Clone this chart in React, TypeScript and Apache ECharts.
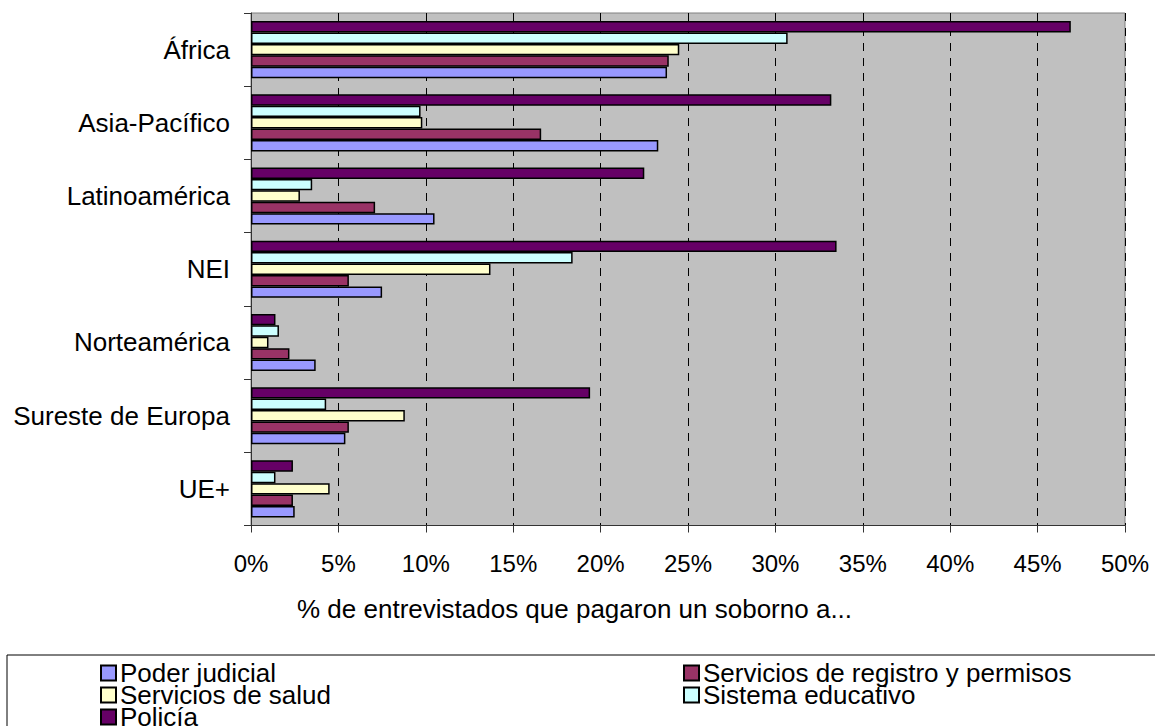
import React, { useEffect, useRef } from "react";
import * as echarts from "echarts";

const categories = ["África", "Asia-Pacífico", "Latinoamérica", "NEI", "Norteamérica", "Sureste de Europa", "UE+"];
const seriesNames = ["Poder judicial", "Servicios de registro y permisos", "Servicios de salud", "Sistema educativo", "Policía"];
const poderJudicial = [23.8, 23.3, 10.5, 7.5, 3.7, 5.4, 2.5];
const registroPermisos = [23.9, 16.6, 7.1, 5.6, 2.2, 5.6, 2.4];
const salud = [24.5, 9.8, 2.8, 13.7, 1.0, 8.8, 4.5];
const educativo = [30.7, 9.7, 3.5, 18.4, 1.6, 4.3, 1.4];
const policia = [46.9, 33.2, 22.5, 33.5, 1.4, 19.4, 2.4];
const seriesValues = [poderJudicial, registroPermisos, salud, educativo, policia];
const seriesColors = ["#9999FF", "#993366", "#FFFFCC", "#CCFFFF", "#660066"];
const axisTitle = "% de entrevistados que pagaron un soborno a...";

const FONT = "'Liberation Sans', Arial, sans-serif";

export default function App() {
  const ref = useRef<HTMLDivElement>(null);
  useEffect(() => {
    if (!ref.current) return;
    const chart = echarts.init(ref.current, undefined, { renderer: "svg" });
    const legendPos = [
      { left: 100, top: 660 },
      { left: 683, top: 660 },
      { left: 100, top: 682 },
      { left: 683, top: 682 },
      { left: 100, top: 704 },
    ];
    // Series drawn top-to-bottom within each band: Policía first, Poder judicial last
    const drawOrder = [4, 3, 2, 1, 0];
    chart.setOption({
      animation: false,
      backgroundColor: "#FFFFFF",
      textStyle: { fontFamily: FONT },
      grid: {
        left: 251,
        right: 30,
        top: 13,
        height: 512.5,
        show: true,
        backgroundColor: "#C0C0C0",
        borderColor: "#808080",
        borderWidth: 1,
      },
      legend: seriesNames.map((name, i) => ({
        data: [name],
        left: legendPos[i].left,
        top: legendPos[i].top,
        padding: 0,
        icon: "rect",
        itemWidth: 15,
        itemHeight: 15,
        itemGap: 0,
        selectedMode: false,
        textStyle: { fontSize: 26, fontFamily: FONT, color: "#000", lineHeight: 22, padding: [0, 0, 0, -1] },
      })),
      xAxis: {
        type: "value",
        min: 0,
        max: 50,
        interval: 5,
        axisLine: { show: true, lineStyle: { color: "#333", width: 1 } },
        axisTick: { show: true, length: 7, lineStyle: { color: "#333" } },
        axisLabel: { formatter: "{value}%", fontSize: 24, color: "#000", margin: 26, fontFamily: FONT },
        splitLine: { show: true, lineStyle: { color: "#000", type: [8, 7], width: 1 } },
      },
      yAxis: {
        type: "category",
        data: categories,
        inverse: true,
        axisLine: { show: true, lineStyle: { color: "#333", width: 1 } },
        axisTick: { show: true, length: 7, lineStyle: { color: "#333" } },
        axisLabel: { fontSize: 26, color: "#000", margin: 21, fontFamily: FONT },
        splitLine: { show: false },
      },
      graphic: [
        {
          type: "text",
          left: 297,
          top: 596,
          style: { text: axisTitle, fontSize: 26, fontFamily: FONT, fill: "#000" },
        },
        {
          type: "rect",
          shape: { x: 7, y: 655, width: 1160, height: 100 },
          style: { fill: "none", stroke: "#000", lineWidth: 1 },
          silent: true,
        },
      ],
      series: drawOrder.map((i) => ({
        name: seriesNames[i],
        type: "bar",
        data: seriesValues[i],
        barCategoryGap: "22%",
        barGap: "0%",
        itemStyle: { color: seriesColors[i], borderColor: "#000", borderWidth: 1.5 },
      })),
    });
    return () => chart.dispose();
  }, []);
  return (
    <div
      ref={ref}
      style={{ position: "fixed", left: 0, top: 0, width: 1155, height: 726, background: "#fff" }}
    />
  );
}
